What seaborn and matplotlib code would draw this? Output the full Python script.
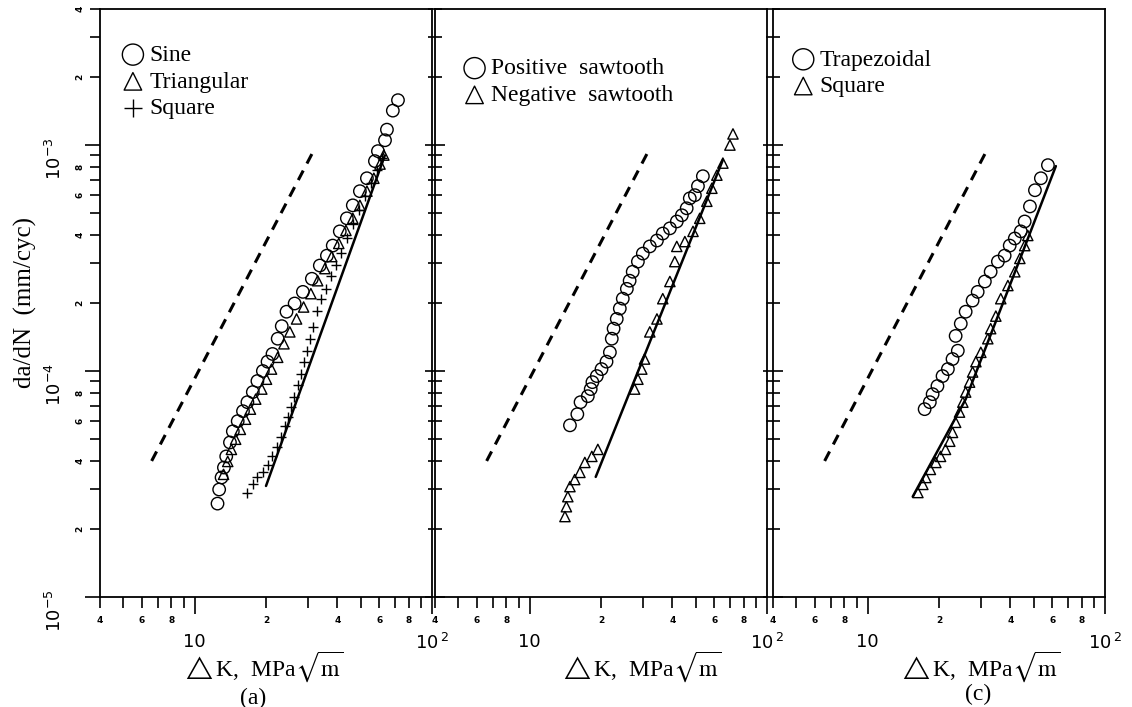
import matplotlib
matplotlib.use('Agg')
import matplotlib.pyplot as plt
import seaborn as sns
from matplotlib.ticker import FixedLocator, FixedFormatter

# ---- panel (a) ----
sine_dk = [12.5, 12.7, 13.0, 13.3, 13.6, 14.1, 14.5, 15.2, 16.0, 16.7, 17.6, 18.4,
           19.4, 20.3, 21.3, 22.4, 23.3, 24.4, 26.4, 28.6, 31.2, 33.7, 36.1, 38.2,
           40.9, 43.8, 46.4, 49.7, 53.2, 57.5, 59.2, 63.4, 64.6, 68.4, 71.9]
sine_dadn = [2.59e-5, 2.99e-5, 3.38e-5, 3.74e-5, 4.19e-5, 4.83e-5, 5.41e-5, 6.0e-5,
             6.64e-5, 7.28e-5, 8.07e-5, 9.03e-5, 1.0e-4, 1.10e-4, 1.19e-4, 1.39e-4,
             1.58e-4, 1.83e-4, 1.99e-4, 2.24e-4, 2.56e-4, 2.93e-4, 3.24e-4, 3.59e-4,
             4.15e-4, 4.74e-4, 5.41e-4, 6.25e-4, 7.13e-4, 8.49e-4, 9.4e-4, 1.05e-3,
             1.17e-3, 1.42e-3, 1.58e-3]

tri_dk = [13.25, 13.8, 14.3, 14.9, 15.6, 16.4, 17.2, 18.1, 19.2, 20.1, 21.1, 22.4,
          23.8, 25.2, 26.9, 28.8, 30.9, 33.0, 35.4, 37.8, 40.5, 43.4, 46.4, 49.7,
          53.2, 56.9, 60.4, 62.7]
tri_dadn = [3.49e-5, 3.98e-5, 4.5e-5, 4.99e-5, 5.52e-5, 6.12e-5, 6.78e-5, 7.51e-5,
            8.32e-5, 9.2e-5, 1.02e-4, 1.15e-4, 1.32e-4, 1.49e-4, 1.70e-4, 1.92e-4,
            2.2e-4, 2.51e-4, 2.84e-4, 3.21e-4, 3.67e-4, 4.19e-4, 4.74e-4, 5.41e-4,
            6.25e-4, 7.13e-4, 8.24e-4, 9.03e-4]

sq_a_dk = [16.7, 17.6, 18.4, 19.4, 20.3, 21.3, 22.2, 23.1, 24.0, 24.7, 25.4, 26.2,
           27.2, 28.0, 28.8, 29.7, 30.5, 31.5, 32.7, 34.0, 35.7, 37.5, 39.4, 41.3,
           43.8, 46.4, 49.2, 52.1, 55.3, 58.6, 61.5]
sq_a_dadn = [2.9e-5, 3.15e-5, 3.38e-5, 3.59e-5, 3.82e-5, 4.19e-5, 4.59e-5, 5.09e-5,
             5.7e-5, 6.25e-5, 6.92e-5, 7.66e-5, 8.66e-5, 9.7e-5, 1.10e-4, 1.23e-4,
             1.39e-4, 1.57e-4, 1.85e-4, 2.09e-4, 2.31e-4, 2.62e-4, 2.96e-4, 3.34e-4,
             3.86e-4, 4.46e-4, 5.14e-4, 5.93e-4, 6.78e-4, 7.74e-4, 8.75e-4]

fit_a_dk = [20.0, 63.3]
fit_a_dadn = [3.1e-5, 9.0e-4]

# ---- panel (b) ----
pos_dk = [14.8, 15.9, 16.4, 17.6, 18.1, 18.4, 19.2, 20.1, 21.1, 21.8, 22.2, 22.6,
          23.3, 24.0, 24.7, 25.7, 26.4, 27.2, 28.6, 30.0, 32.1, 34.4, 36.4, 39.0,
          41.7, 43.8, 45.9, 47.3, 49.7, 51.2, 53.7]
pos_dadn = [5.75e-5, 6.44e-5, 7.28e-5, 7.74e-5, 8.32e-5, 8.93e-5, 9.5e-5, 1.02e-4,
            1.10e-4, 1.21e-4, 1.39e-4, 1.54e-4, 1.70e-4, 1.89e-4, 2.09e-4, 2.31e-4,
            2.51e-4, 2.75e-4, 3.05e-4, 3.31e-4, 3.56e-4, 3.78e-4, 4.06e-4, 4.28e-4,
            4.59e-4, 4.89e-4, 5.25e-4, 5.81e-4, 6.0e-4, 6.58e-4, 7.28e-4]

neg_dk = [14.1, 14.3, 14.5, 14.8, 15.5, 16.3, 17.1, 18.3, 19.4, 27.7, 28.6, 29.7,
          30.5, 32.1, 34.4, 36.4, 39.0, 40.9, 41.7, 45.1, 48.8, 52.1, 55.8, 58.6,
          61.5, 65.2, 69.8, 71.9]
neg_dadn = [2.27e-5, 2.51e-5, 2.78e-5, 3.08e-5, 3.31e-5, 3.56e-5, 3.94e-5, 4.19e-5,
            4.5e-5, 8.32e-5, 9.2e-5, 1.02e-4, 1.13e-4, 1.49e-4, 1.70e-4, 2.09e-4,
            2.49e-4, 3.05e-4, 3.56e-4, 3.74e-4, 4.15e-4, 4.74e-4, 5.64e-4, 6.44e-4,
            7.36e-4, 8.32e-4, 1.0e-3, 1.12e-3]

fit_b_dk = [19.0, 65.2]
fit_b_dadn = [3.4e-5, 8.6e-4]

# ---- panel (c) ----
trap_dk = [17.4, 18.3, 18.8, 19.7, 20.7, 21.8, 22.8, 24.0, 23.5, 24.7, 25.9, 27.7,
           29.1, 31.2, 33.0, 35.4, 37.8, 39.7, 41.7, 44.2, 45.9, 48.3, 50.7, 53.7, 57.5]
trap_dadn = [6.78e-5, 7.28e-5, 7.9e-5, 8.58e-5, 9.5e-5, 1.02e-4, 1.13e-4, 1.23e-4,
             1.43e-4, 1.62e-4, 1.83e-4, 2.05e-4, 2.24e-4, 2.49e-4, 2.75e-4, 3.05e-4,
             3.24e-4, 3.59e-4, 3.86e-4, 4.15e-4, 4.59e-4, 5.35e-4, 6.31e-4, 7.13e-4,
             8.15e-4]

sq_c_dk = [16.3, 17.1, 17.6, 18.4, 19.4, 20.3, 21.3, 22.2, 22.8, 23.5, 24.4, 25.2,
           25.9, 26.9, 27.7, 28.6, 30.0, 32.1, 33.0, 34.7, 36.4, 39.0, 41.7, 43.8,
           45.9, 47.3]
sq_c_dadn = [2.9e-5, 3.15e-5, 3.38e-5, 3.67e-5, 3.94e-5, 4.19e-5, 4.5e-5, 4.89e-5,
             5.35e-5, 5.93e-5, 6.58e-5, 7.28e-5, 8.07e-5, 8.93e-5, 9.9e-5, 1.10e-4,
             1.21e-4, 1.39e-4, 1.54e-4, 1.75e-4, 2.09e-4, 2.39e-4, 2.75e-4, 3.15e-4,
             3.59e-4, 3.98e-4]

fit_c_dk = [15.5, 25.9, 37.8, 62.1]
fit_c_dadn = [2.78e-5, 7.5e-5, 2.09e-4, 8.07e-4]

# dashed reference line, same in every panel
ref_dk = [6.6, 32.0]
ref_dadn = [4.0e-5, 9.6e-4]

x_minor = [4, 5, 6, 7, 8, 9, 20, 30, 40, 50, 60, 70, 80, 90]
x_minor_lbl = ['4', '', '6', '', '8', '', '2', '', '4', '', '6', '', '8', '']
y_major = [1e-5, 1e-4, 1e-3]
y_major_lbl = [r'$10^{-5}$', r'$10^{-4}$', r'$10^{-3}$']
y_minor = [k * d for d in y_major for k in range(2, 10) if k * d <= 4.01e-3]
y_minor_lbl = ['2', '', '4', '', '6', '', '8', ''] * 2 + ['2', '', '4']

dk_label = r'$\triangle$K,  MPa$\sqrt{\mathrm{m}}$'
SERIF = 'Liberation Serif'

sns.set_theme(style='ticks')
plt.rcParams['font.family'] = ['DejaVu Sans']
plt.rcParams['mathtext.fontset'] = 'dejavusans'
for key in ['text.color', 'axes.labelcolor', 'xtick.color', 'ytick.color',
            'axes.edgecolor']:
    plt.rcParams[key] = 'black'

fig = plt.figure(figsize=(11.32, 7.07), dpi=100)
W, H = 1132, 707
boxes = [(100, 332), (435, 332), (773, 332)]
axes = [fig.add_axes([l / W, (H - 597) / H, w / W, 588 / H]) for l, w in boxes]


def style_axes(ax, first):
    ax.set_xscale('log')
    ax.set_yscale('log')
    ax.set_xlim(4, 100)
    ax.set_ylim(1e-5, 4e-3)
    for sp in ax.spines.values():
        sp.set_visible(True)
        sp.set_linewidth(1.3)
        sp.set_color('black')
    ax.xaxis.set_major_locator(FixedLocator([10, 100]))
    ax.xaxis.set_major_formatter(FixedFormatter(['10', r'$10^{\,2}$']))
    ax.xaxis.set_minor_locator(FixedLocator(x_minor))
    ax.xaxis.set_minor_formatter(FixedFormatter(x_minor_lbl))
    ax.tick_params(axis='x', which='major', direction='out', length=12, width=1.2,
                   pad=14, labelsize=13, colors='black')
    ax.tick_params(axis='x', which='minor', direction='out', length=8, width=1.2,
                   pad=6, labelsize=6.5, colors='black')
    for lbl in ax.get_xticklabels(minor=True):
        lbl.set_fontweight('bold')
    ax.yaxis.set_major_locator(FixedLocator(y_major))
    ax.yaxis.set_minor_locator(FixedLocator(y_minor))
    if first:
        ax.yaxis.set_major_formatter(FixedFormatter(y_major_lbl))
        ax.yaxis.set_minor_formatter(FixedFormatter(y_minor_lbl))
        ax.tick_params(axis='y', which='major', direction='out', length=11, width=1.2,
                       pad=14, labelsize=13, labelrotation=90, colors='black')
        ax.tick_params(axis='y', which='minor', direction='out', length=7, width=1.2,
                       pad=4, labelsize=6.5, labelrotation=90, colors='black')
        for lbl in ax.get_yticklabels(minor=True):
            lbl.set_fontweight('bold')
    else:
        ax.tick_params(axis='y', which='both', direction='inout', labelleft=False,
                       width=1.2, colors='black')
        ax.tick_params(axis='y', which='major', length=14)
        ax.tick_params(axis='y', which='minor', length=10)


def draw_lines(ax, fit_dk, fit_dadn):
    sns.lineplot(x=ref_dk, y=ref_dadn, ax=ax, color='black', linewidth=2.2)
    ax.lines[-1].set_dashes([3.5, 2.6])
    sns.lineplot(x=fit_dk, y=fit_dadn, ax=ax, color='black', linewidth=1.8)


def open_pts(ax, xs, ys, marker, label, size):
    if marker == '+':
        sns.scatterplot(x=xs, y=ys, ax=ax, marker='+', s=size, color='black',
                        linewidth=1.0, label=label, zorder=3)
    else:
        sns.scatterplot(x=xs, y=ys, ax=ax, marker=marker, s=size, color='none',
                        edgecolor='black', linewidth=1.0, label=label, zorder=3)


def add_legend(ax, anchor):
    ax.legend(loc='upper left', bbox_to_anchor=anchor, frameon=False,
              prop={'family': SERIF, 'size': 17}, markerscale=1.7,
              handletextpad=0.15, labelspacing=0.22, borderaxespad=0,
              handlelength=1.1, borderpad=0)


ax_a, ax_b, ax_c = axes

draw_lines(ax_a, fit_a_dk, fit_a_dadn)
open_pts(ax_a, sine_dk, sine_dadn, 'o', 'Sine', 80)
open_pts(ax_a, tri_dk, tri_dadn, '^', 'Triangular', 55)
open_pts(ax_a, sq_a_dk, sq_a_dadn, '+', 'Square', 60)
add_legend(ax_a, (0.06, 0.94))

draw_lines(ax_b, fit_b_dk, fit_b_dadn)
open_pts(ax_b, pos_dk, pos_dadn, 'o', 'Positive  sawtooth', 80)
open_pts(ax_b, neg_dk, neg_dadn, '^', 'Negative  sawtooth', 55)
add_legend(ax_b, (0.08, 0.917))

draw_lines(ax_c, fit_c_dk, fit_c_dadn)
open_pts(ax_c, trap_dk, trap_dadn, 'o', 'Trapezoidal', 80)
open_pts(ax_c, sq_c_dk, sq_c_dadn, '^', 'Square', 55)
add_legend(ax_c, (0.052, 0.932))

for i, ax in enumerate(axes):
    style_axes(ax, i == 0)
    ax.set_xlabel('')
    ax.set_ylabel('')

for ax, xpos in [(ax_a, 0.49), (ax_b, 0.62), (ax_c, 0.623)]:
    ax.text(xpos, -0.118, dk_label, transform=ax.transAxes, ha='center', va='center',
            fontsize=17, family=SERIF, math_fontfamily='stix')
ax_a.text(0.46, -0.172, '(a)', transform=ax_a.transAxes, ha='center', va='center',
          fontsize=17, family=SERIF)
ax_c.text(0.617, -0.166, '(c)', transform=ax_c.transAxes, ha='center', va='center',
          fontsize=17, family=SERIF)

fig.text(25 / W, (H - 303) / H, 'da/dN  (mm/cyc)', rotation=90, ha='center',
         va='center', fontsize=18, family=SERIF)

fig.savefig('out.png', dpi=100)
